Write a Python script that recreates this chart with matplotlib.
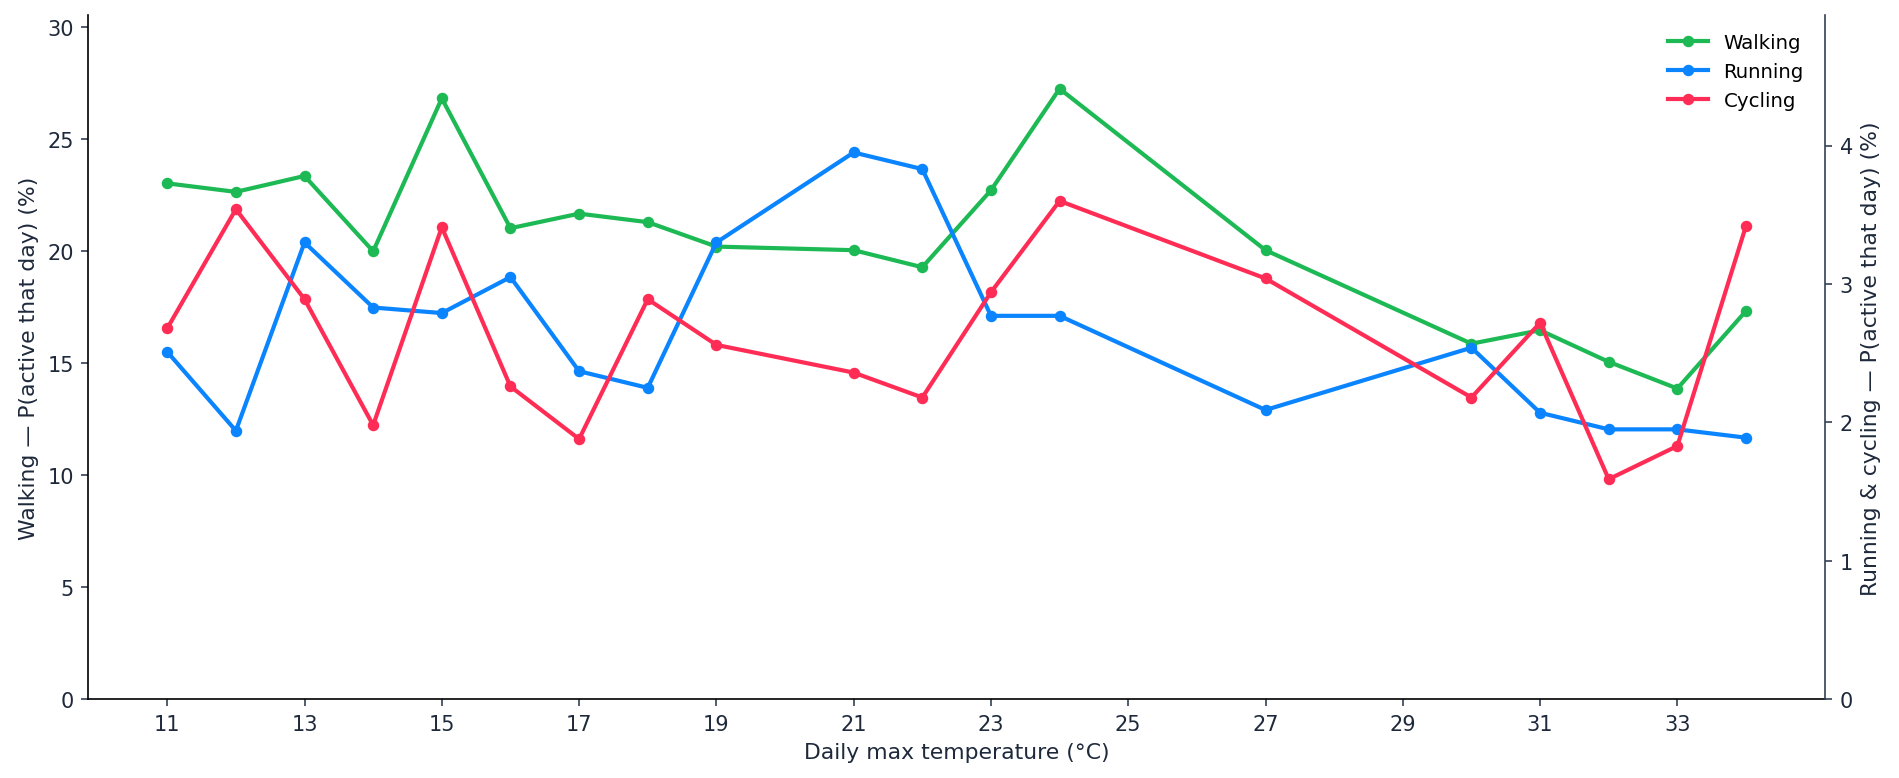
import matplotlib
matplotlib.use("Agg")
import matplotlib.pyplot as plt

temps = [11, 12, 13, 14, 15, 16, 17, 18, 19, 21, 22, 23, 24, 27, 30, 31, 32, 33, 34]
walking = [23.01, 22.63, 23.34, 19.98, 26.80, 21.01, 21.66, 21.28, 20.19, 20.03,
           19.27, 22.70, 27.23, 20.03, 15.86, 16.46, 15.05, 13.86, 17.32]
running = [2.51, 1.94, 3.30, 2.83, 2.79, 3.05, 2.37, 2.25, 3.30, 3.95,
           3.83, 2.77, 2.77, 2.09, 2.54, 2.07, 1.95, 1.95, 1.89]
cycling = [2.68, 3.54, 2.89, 1.98, 3.41, 2.26, 1.88, 2.89, 2.56, 2.36,
           2.18, 2.94, 3.60, 3.04, 2.18, 2.72, 1.59, 1.83, 3.42]
xticks = [11, 13, 15, 17, 19, 21, 23, 25, 27, 29, 31, 33]

GREEN = "#1db954"
BLUE = "#0a84ff"
RED = "#ff2d55"
TXT = "#1e293b"
TICK = "#334155"

plt.rcParams['font.family'] = ['DejaVu Sans']
fig = plt.figure(figsize=(12.66, 5.193), dpi=150)
ax = fig.add_axes([0.0465, 0.101, 0.9145, 0.878])
ax2 = ax.twinx()

lw, ms = 2.0, 4.5
l1, = ax.plot(temps, walking, color=GREEN, lw=lw, marker='o', ms=ms, label='Walking')
l2, = ax2.plot(temps, running, color=BLUE, lw=lw, marker='o', ms=ms, label='Running')
l3, = ax2.plot(temps, cycling, color=RED, lw=lw, marker='o', ms=ms, label='Cycling')

ax.set_ylim(0, 30.5)
ax2.set_ylim(0, 4.94)
ax.set_xticks(xticks)

ax.set_xlabel("Daily max temperature (°C)", fontsize=10.5, color=TXT)
ax.set_ylabel("Walking — P(active that day) (%)", fontsize=10.5, color=TXT)
ax2.set_ylabel("Running & cycling — P(active that day) (%)", fontsize=10.5, color=TXT)

for a in (ax, ax2):
    a.tick_params(labelsize=10, colors=TICK, labelcolor=TXT)
    a.spines['top'].set_visible(False)
ax.spines['right'].set_visible(False)
ax2.spines['left'].set_visible(False)
ax2.spines['bottom'].set_visible(False)
ax2.spines['right'].set_color(TICK)

ax2.legend(handles=[l1, l2, l3], loc='upper right', frameon=False, fontsize=9.5,
           bbox_to_anchor=(0.998, 1.0))

fig.savefig("out.png", dpi=150)
